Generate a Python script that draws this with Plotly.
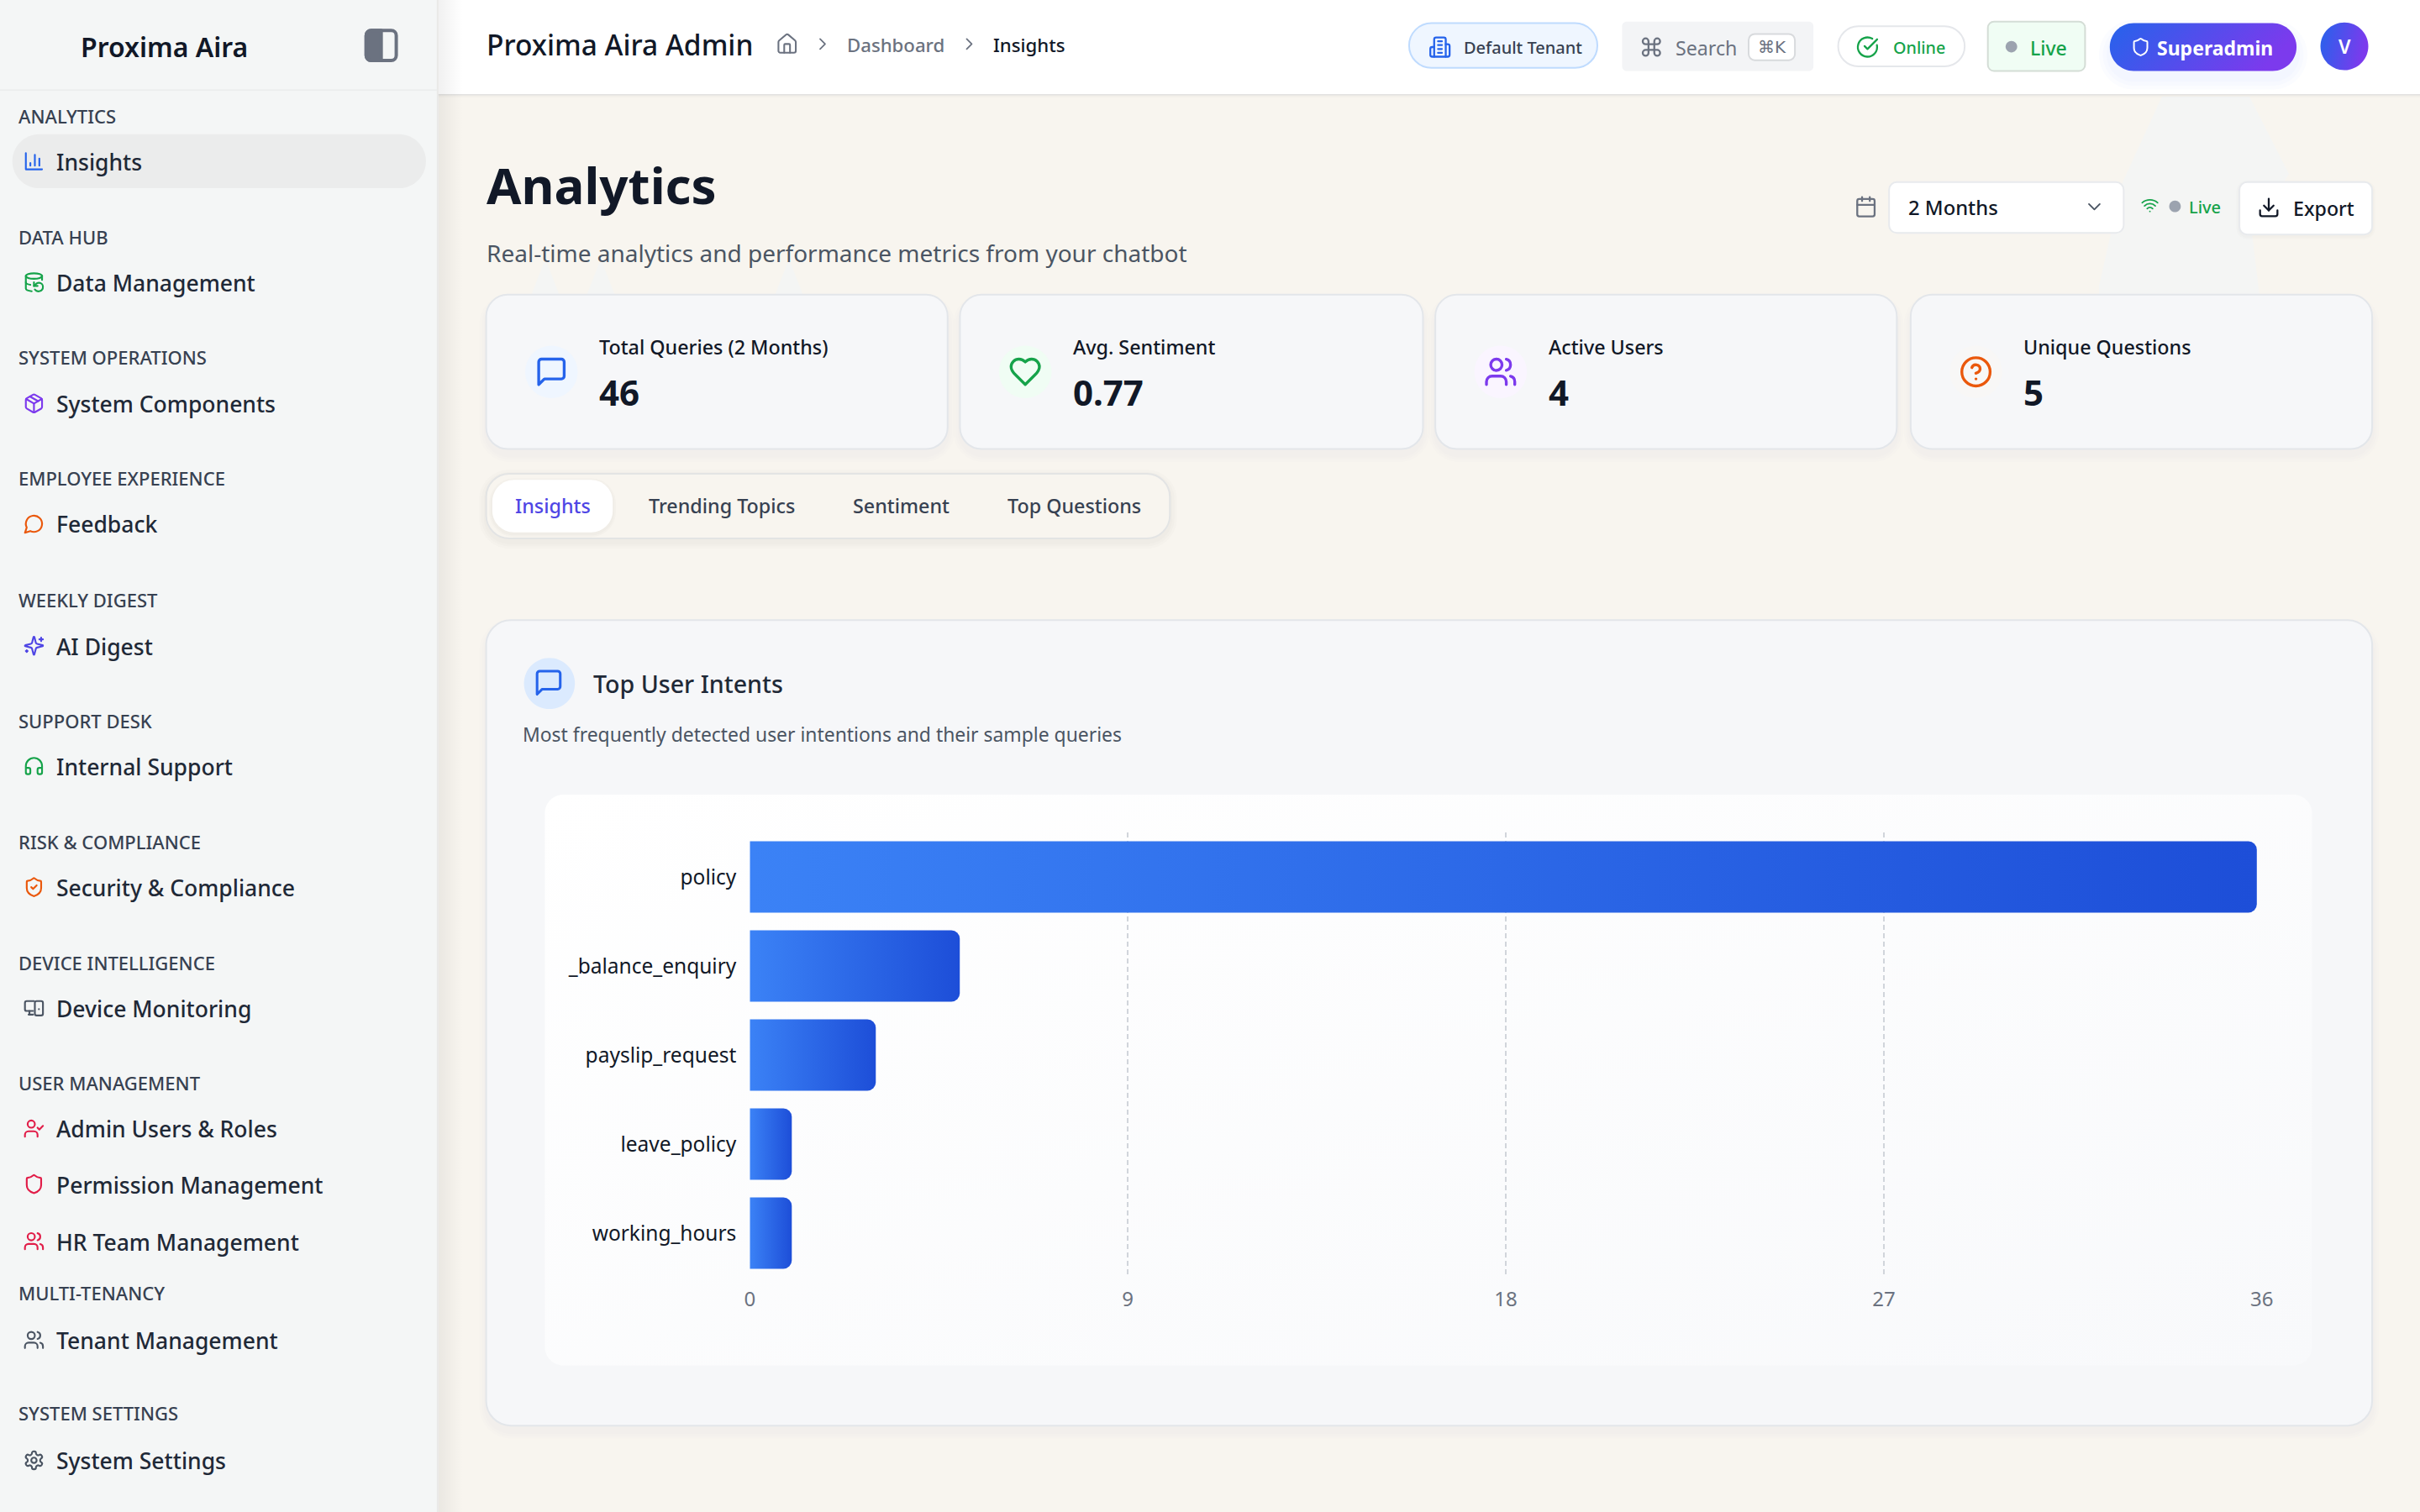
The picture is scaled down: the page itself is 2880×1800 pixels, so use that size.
"""Proxima Aira admin page, Top User Intents bar chart and the dashboard around it."""

from __future__ import annotations

import base64

import plotly.graph_objects as go

# chart data
intents = ["policy", "_balance_enquiry", "payslip_request", "leave_policy", "working_hours"]
intent_counts = [35.88, 5, 3, 1, 1]
count_ticks = [0, 9, 18, 27, 36]

# stat cards
stat_labels = ["Total Queries (2 Months)", "Avg. Sentiment", "Active Users", "Unique Questions"]
stat_values = ["46", "0.77", "4", "5"]

FONT = "Noto Sans"
INK = "#111827"
GREEN = "#16a34a"
BG = "#f8f5ef"
CARD = "#f6f7f9"
EDGE = "#e3e6ea"

# layout below is in units of the 1568x980 preview of the page
U = 2880 / 1568
K = 0.4477

shapes = []
annotations = []
images = []
gradient_shapes = {}


def px(x):
    return x / 1568


def py(y):
    return 1 - y / 980


def rrect_path(x0, y0, x1, y1, r):
    r = min(r, (x1 - x0) / 2, (y1 - y0) / 2)
    k = r * K
    pts = [
        f"M{px(x0 + r)},{py(y0)}", f"L{px(x1 - r)},{py(y0)}",
        f"C{px(x1 - k)},{py(y0)} {px(x1)},{py(y0 + k)} {px(x1)},{py(y0 + r)}",
        f"L{px(x1)},{py(y1 - r)}",
        f"C{px(x1)},{py(y1 - k)} {px(x1 - k)},{py(y1)} {px(x1 - r)},{py(y1)}",
        f"L{px(x0 + r)},{py(y1)}",
        f"C{px(x0 + k)},{py(y1)} {px(x0)},{py(y1 - k)} {px(x0)},{py(y1 - r)}",
        f"L{px(x0)},{py(y0 + r)}",
        f"C{px(x0)},{py(y0 + k)} {px(x0 + k)},{py(y0)} {px(x0 + r)},{py(y0)}",
        "Z",
    ]
    return " ".join(pts)


def box(x0, y0, x1, y1, r=0, fill="white", line=None, lw=2, grad=None):
    shapes.append(dict(
        type="path", xref="paper", yref="paper", layer="below",
        path=rrect_path(x0, y0, x1, y1, r), fillcolor=fill,
        line=dict(color=line, width=lw) if line else dict(width=0),
    ))
    if grad:
        gradient_shapes[len(shapes) - 1] = grad


def soft_shadow(x0, y0, x1, y1, r, dy=2, color="60,60,70", steps=(9, 6, 3), alpha=0.012):
    for s in steps:
        box(x0 - s / 2, y0 - s / 2 + dy, x1 + s / 2, y1 + s / 2 + dy, r + s / 2,
            fill=f"rgba({color},{alpha})")


def poly(points, fill):
    d = " ".join(("M" if i == 0 else "L") + f"{px(x / U)},{py(y / U)}" for i, (x, y) in enumerate(points))
    shapes.append(dict(type="path", xref="paper", yref="paper", layer="below",
                       path=d + " Z", fillcolor=fill, line=dict(width=0)))


def txt(x, y, text, size, color=INK, weight=400, anchor="left", family=FONT):
    annotations.append(dict(
        x=px(x), y=py(y), xref="paper", yref="paper", text=text, showarrow=False,
        xanchor=anchor, yanchor="middle", borderpad=0,
        font=dict(family=family, size=size, color=color, weight=weight),
    ))


ICONS = {
    "chart": '<path d="M3 3v18h18"/><path d="M18 17V9"/><path d="M13 17V5"/><path d="M8 17v-3"/>',
    "db": '<ellipse cx="12" cy="5" rx="9" ry="3"/><path d="M3 12a9 3 0 0 0 5 2.69"/><path d="M21 9.3V5"/><path d="M3 5v14a9 3 0 0 0 6.47 2.88"/><path d="M12 12v4h4"/><path d="M13 20a5 5 0 0 0 9-3 4.5 4.5 0 0 0-4.5-4.5c-1.33 0-2.54.54-3.41 1.41L12 16"/>',
    "box": '<path d="M21 8a2 2 0 0 0-1-1.73l-7-4a2 2 0 0 0-2 0l-7 4A2 2 0 0 0 3 8v8a2 2 0 0 0 1 1.73l7 4a2 2 0 0 0 2 0l7-4A2 2 0 0 0 21 16Z"/><path d="m3.3 7 8.7 5 8.7-5"/><path d="M12 22V12"/><path d="m7.5 4.27 9 5.15"/>',
    "bubble": '<path d="M7.9 20A9 9 0 1 0 4 16.1L2 22Z"/>',
    "sparkles": '<path d="M9.937 15.5A2 2 0 0 0 8.5 14.063l-6.135-1.582a.5.5 0 0 1 0-.962L8.5 9.936A2 2 0 0 0 9.937 8.5l1.582-6.135a.5.5 0 0 1 .963 0L14.063 8.5A2 2 0 0 0 15.5 9.937l6.135 1.581a.5.5 0 0 1 0 .964L15.5 14.063a2 2 0 0 0-1.437 1.437l-1.582 6.135a.5.5 0 0 1-.963 0z"/><path d="M20 3v4"/><path d="M22 5h-4"/><path d="M4 17v2"/><path d="M5 18H3"/>',
    "headset": '<path d="M3 14h3a2 2 0 0 1 2 2v3a2 2 0 0 1-2 2H5a2 2 0 0 1-2-2v-7a9 9 0 0 1 18 0v7a2 2 0 0 1-2 2h-1a2 2 0 0 1-2-2v-3a2 2 0 0 1 2-2h3"/>',
    "shield": '<path d="M20 13c0 5-3.5 7.5-7.66 8.95a1 1 0 0 1-.67-.01C7.5 20.5 4 18 4 13V6a1 1 0 0 1 1-1c2 0 4.5-1.2 6.24-2.72a1.17 1.17 0 0 1 1.52 0C14.51 3.81 17 5 19 5a1 1 0 0 1 1 1z"/>',
    "shieldcheck": '<path d="M20 13c0 5-3.5 7.5-7.66 8.95a1 1 0 0 1-.67-.01C7.5 20.5 4 18 4 13V6a1 1 0 0 1 1-1c2 0 4.5-1.2 6.24-2.72a1.17 1.17 0 0 1 1.52 0C14.51 3.81 17 5 19 5a1 1 0 0 1 1 1z"/><path d="m9 12 2 2 4-4"/>',
    "devices": '<path d="M12 4H4a2 2 0 0 0-2 2v7a2 2 0 0 0 2 2h7"/><path d="M6 19h5"/><path d="M7 15v4"/><rect x="13" y="4" width="9" height="16" rx="2"/><path d="M17.5 13h.01"/>',
    "usercheck": '<path d="M16 21v-2a4 4 0 0 0-4-4H6a4 4 0 0 0-4 4v2"/><circle cx="9" cy="7" r="4"/><path d="m16 11 2 2 4-4"/>',
    "users": '<path d="M16 21v-2a4 4 0 0 0-4-4H6a4 4 0 0 0-4 4v2"/><circle cx="9" cy="7" r="4"/><path d="M22 21v-2a4 4 0 0 0-3-3.87"/><path d="M16 3.13a4 4 0 0 1 0 7.75"/>',
    "cog": '<path d="M12.22 2h-.44a2 2 0 0 0-2 2v.18a2 2 0 0 1-1 1.73l-.43.25a2 2 0 0 1-2 0l-.15-.08a2 2 0 0 0-2.73.73l-.22.38a2 2 0 0 0 .73 2.73l.15.1a2 2 0 0 1 1 1.72v.51a2 2 0 0 1-1 1.74l-.15.09a2 2 0 0 0-.73 2.73l.22.38a2 2 0 0 0 2.73.73l.15-.08a2 2 0 0 1 2 0l.43.25a2 2 0 0 1 1 1.73V20a2 2 0 0 0 2 2h.44a2 2 0 0 0 2-2v-.18a2 2 0 0 1 1-1.73l.43-.25a2 2 0 0 1 2 0l.15.08a2 2 0 0 0 2.73-.73l.22-.39a2 2 0 0 0-.73-2.73l-.15-.08a2 2 0 0 1-1-1.74v-.5a2 2 0 0 1 1-1.74l.15-.09a2 2 0 0 0 .73-2.73l-.22-.38a2 2 0 0 0-2.73-.73l-.15.08a2 2 0 0 1-2 0l-.43-.25a2 2 0 0 1-1-1.73V4a2 2 0 0 0-2-2z"/><circle cx="12" cy="12" r="3"/>',
    "home": '<path d="M15 21v-8a1 1 0 0 0-1-1h-4a1 1 0 0 0-1 1v8"/><path d="M3 10a2 2 0 0 1 .709-1.528l7-5.999a2 2 0 0 1 2.582 0l7 5.999A2 2 0 0 1 21 10v9a2 2 0 0 1-2 2H5a2 2 0 0 1-2-2z"/>',
    "right": '<path d="m9 18 6-6-6-6"/>',
    "down": '<path d="m6 9 6 6 6-6"/>',
    "building": '<path d="M6 22V4a2 2 0 0 1 2-2h8a2 2 0 0 1 2 2v18Z"/><path d="M6 12H4a2 2 0 0 0-2 2v6a2 2 0 0 0 2 2h2"/><path d="M18 9h2a2 2 0 0 1 2 2v9a2 2 0 0 1-2 2h-2"/><path d="M10 6h4"/><path d="M10 10h4"/><path d="M10 14h4"/><path d="M10 18h4"/>',
    "command": '<path d="M15 6v12a3 3 0 1 0 3-3H6a3 3 0 1 0 3 3V6a3 3 0 1 0-3 3h12a3 3 0 1 0-3-3"/>',
    "check": '<path d="M21.801 10A10 10 0 1 1 17 3.335"/><path d="m9 11 3 3L22 4"/>',
    "calendar": '<path d="M8 2v4"/><path d="M16 2v4"/><rect x="3" y="4" width="18" height="18" rx="2"/><path d="M3 10h18"/>',
    "wifi": '<path d="M12 20h.01"/><path d="M2 8.82a15 15 0 0 1 20 0"/><path d="M5 12.859a10 10 0 0 1 14 0"/><path d="M8.5 16.429a5 5 0 0 1 7 0"/>',
    "download": '<path d="M21 15v4a2 2 0 0 1-2 2H5a2 2 0 0 1-2-2v-4"/><path d="m7 10 5 5 5-5"/><path d="M12 15V3"/>',
    "message": '<path d="M21 15a2 2 0 0 1-2 2H7l-4 4V5a2 2 0 0 1 2-2h14a2 2 0 0 1 2 2z"/>',
    "heart": '<path d="M19 14c1.49-1.46 3-3.21 3-5.5A5.5 5.5 0 0 0 16.5 3c-1.76 0-3 .5-4.5 2-1.5-1.5-2.74-2-4.5-2A5.5 5.5 0 0 0 2 8.5c0 2.3 1.5 4.05 3 5.5l7 7Z"/>',
    "help": '<circle cx="12" cy="12" r="10"/><path d="M9.09 9a3 3 0 0 1 5.83 1c0 2-3 3-3 3"/><path d="M12 17h.01"/>',
    "panel": '<rect x="3" y="3" width="18" height="18" rx="3"/><path d="M3 6a3 3 0 0 1 3-3h6v18H6a3 3 0 0 1-3-3z" fill="currentColor"/>',
}


def icon(name, cx, cy, size, color, sw=2):
    svg = (
        f'<svg xmlns="http://www.w3.org/2000/svg" width="96" height="96" viewBox="0 0 24 24" fill="none" '
        f'stroke="{color}" color="{color}" stroke-width="{sw}" stroke-linecap="round" stroke-linejoin="round">'
        f"{ICONS[name]}</svg>"
    )
    src = "data:image/svg+xml;base64," + base64.b64encode(svg.encode()).decode()
    images.append(dict(
        source=src, xref="paper", yref="paper", x=px(cx), y=py(cy),
        sizex=size / 1568, sizey=size / 980, xanchor="center", yanchor="middle",
        sizing="stretch", layer="above",
    ))


# page frame
box(284, 0, 1568, 980, 0, fill=BG)
# faint artefacts left behind the header and the controls
poly([(2573, 115), (2526, 217), (2498, 340), (2498, 352), (2689, 352), (2680, 277), (2724, 207), (2677, 115)], "#f4f5f4")
for apex in (649, 715, 939):
    poly([(apex - 17, 352), (apex, 308), (apex + 17, 352)], "#f4f5f4")

box(284, 0, 1568, 61, 0, fill="white")
box(284, 61, 1568, 61.8, 0, fill="#e2e2e0")
box(284, 61.8, 1568, 63, 0, fill="rgba(0,0,0,0.025)")
box(283, 0, 300, 980, 0, fill="#000000", grad="sideShade")
box(0, 0, 283.5, 980, 0, fill="#f4f6f6")
box(283, 0, 284, 980, 0, fill="#e9e9e7")
box(0, 58, 283.5, 58.7, 0, fill="#e8eaea")

# sidebar
txt(106.5, 30, "Proxima Aira", 32, INK, 600, "center")
icon("panel", 247, 29.5, 26, "#6b7280")
box(8, 87, 276, 122, 18, fill="#ebecec")

section_titles = [
    ("ANALYTICS", 75), ("DATA HUB", 153.5), ("SYSTEM OPERATIONS", 231.5), ("EMPLOYEE EXPERIENCE", 310),
    ("WEEKLY DIGEST", 388.5), ("SUPPORT DESK", 467), ("RISK & COMPLIANCE", 545.5), ("DEVICE INTELLIGENCE", 624),
    ("USER MANAGEMENT", 702), ("MULTI-TENANCY", 838), ("SYSTEM SETTINGS", 916),
]
for label, y in section_titles:
    txt(11.2, y, label.replace("&", "&amp;"), 22, "#374151", 500)

sidebar_items = [
    ("Insights", 105, "chart", "#2563eb"), ("Data Management", 183.5, "db", GREEN),
    ("System Components", 262, "box", "#7c3aed"), ("Feedback", 340, "bubble", "#ea580c"),
    ("AI Digest", 419, "sparkles", "#4f46e5"), ("Internal Support", 497, "headset", GREEN),
    ("Security & Compliance", 575.5, "shieldcheck", "#ea580c"), ("Device Monitoring", 654, "devices", "#4b5563"),
    ("Admin Users & Roles", 732, "usercheck", "#e11d48"), ("Permission Management", 768, "shield", "#e11d48"),
    ("HR Team Management", 805, "users", "#e11d48"), ("Tenant Management", 869, "users", "#4b5563"),
    ("System Settings", 947, "cog", "#4b5563"),
]
for label, y, ic, col in sidebar_items:
    txt(36, y, label.replace("&", "&amp;"), 26.5, "#1f2937", 500)
    icon(ic, 22, y - 0.5, 14, col)

# header
txt(314.5, 29, "Proxima Aira Admin", 33.5, INK, 500)
icon("home", 510, 28.5, 15, "#6b7280", 1.8)
icon("right", 533, 28.5, 13, "#6b7280", 1.8)
txt(548, 29, "Dashboard", 22.2, "#6b7280", 500)
icon("right", 628, 28.5, 13, "#6b7280", 1.8)
txt(643, 29, "Insights", 22.2, INK, 500)

box(913, 15, 1035, 44, 15, fill="#eff6ff", line="#bfdbfe")
icon("building", 933, 30.5, 15, "#2563eb")
txt(948, 30.5, "Default Tenant", 20, "#374151", 500)

box(1051, 14, 1175, 46, 3, fill="#f3f4f6")
icon("command", 1070, 30.5, 15, "#6b7280")
txt(1085, 31, "Search", 23.2, "#6b7280", 400)
box(1133, 22, 1163, 39, 4, fill="white", line="#d8dadd")
txt(1148, 30.5, "⌘K", 20, "#6b7280", 400, "center", "DejaVu Sans")

box(1191, 17, 1273, 43, 13, fill="white", line="#e5e7eb")
icon("check", 1210, 30.5, 15, GREEN)
txt(1226, 30.5, "Online", 19.8, GREEN, 500)

box(1288, 14, 1351, 46, 4, fill="#f0fdf4", line="#d4ddd6")
box(1299.5, 26.5, 1307, 34, 4, fill="#9ca3af")
txt(1315, 31, "Live", 23, GREEN, 500)

soft_shadow(1367, 15, 1488, 46, 16, dy=5, color="37,99,235", steps=(14, 9, 4), alpha=0.02)
box(1367, 15, 1488, 46, 15.5, fill="#2563eb", grad="brand")
icon("shield", 1387, 30.5, 13, "white")
txt(1397, 31, "Superadmin", 23, "white", 700)
box(1503.5, 14.5, 1534.5, 45.5, 15.5, fill="#2563eb", grad="brand")
txt(1519, 30, "V", 23, "white", 600, "center")

# page heading
txt(314.5, 120, "Analytics", 60, INK, 700)
txt(314.5, 164, "Real-time analytics and performance metrics from your chatbot", 28, "#4b5563", 400)

# period controls
icon("calendar", 1209, 134, 15, "#6b7280")
box(1224, 118, 1376, 151, 5, fill="white", line="#e8eaed")
txt(1236, 134.5, "2 Months", 23.8, INK, 500)
icon("down", 1357, 134, 14, "#4b5563", 1.8)
icon("wifi", 1393, 133, 12, GREEN)
box(1405.5, 130, 1413, 137.5, 4, fill="#9ca3af")
txt(1418, 134, "Live", 20, GREEN, 500)
soft_shadow(1451, 118, 1537, 152, 5, dy=1, steps=(4, 2), alpha=0.015)
box(1451, 118, 1537, 152, 5, fill="white", line="#e8eaed")
icon("download", 1470, 134.5, 15, INK)
txt(1485, 135, "Export", 23.2, INK, 500)

# stat cards
card_spans = [(315, 614), (622, 922), (930, 1229), (1238, 1537)]
stat_icons = [("message", "#2563eb", "#eff6ff"), ("heart", GREEN, "#f0fdf4"),
              ("users", "#7c3aed", "#faf5ff"), ("help", "#ea580c", "#f8f7f6")]
for (x0, x1), label, value, (ic, col, tint) in zip(card_spans, stat_labels, stat_values, stat_icons):
    soft_shadow(x0, 191, x1, 291, 15, dy=4, alpha=0.009)
    box(x0, 191, x1, 291, 14, fill=CARD, line=EDGE)
    cx = x0 + 42.3
    box(cx - 17, 224, cx + 17, 258, 17, fill=tint)
    icon(ic, cx, 241, 22, col)
    txt(x0 + 72.6, 225, label, 23.3, INK, 500)
    txt(x0 + 72.6, 254, value, 42, INK, 700)

# tabs
soft_shadow(315, 307, 758, 349, 15, dy=2, alpha=0.015)
box(315, 307, 758, 349, 15, fill=BG, line="#e3e4e4")
soft_shadow(319, 311, 397, 345, 14, dy=1, steps=(4, 2), alpha=0.02)
box(319, 311, 397, 345, 14, fill="white")
txt(358, 328, "Insights", 23.3, "#4f46e5", 500, "center")
txt(420, 328, "Trending Topics", 23.3, "#374151", 500)
txt(552, 328, "Sentiment", 23.3, "#374151", 500)
txt(652, 328, "Top Questions", 23.3, "#374151", 500)

# chart card
soft_shadow(315, 402, 1537, 924, 16, dy=4, alpha=0.009)
box(315, 402, 1537, 924, 16, fill=CARD, line=EDGE)
box(339.5, 426.5, 372.5, 459.5, 17, fill="#dbeafe")
icon("message", 355.5, 442.5, 20, "#2563eb")
txt(384, 443, "Top User Intents", 28.6, "#1f2937", 500)
txt(338, 476, "Most frequently detected user intentions and their sample queries", 22.9, "#4b5563", 400)
box(353, 515, 1498, 885, 12, fill="white", grad="panel")

# x domain and y domain of the plot, in page pixels
plot_x = (892.3, 2691.8)
plot_y = (991, 1521)

fig = go.Figure(
    go.Bar(
        x=intent_counts,
        y=intents,
        orientation="h",
        marker=dict(color="#2563eb", line=dict(width=0)),
        hoverinfo="skip",
    )
)
fig.update_layout(
    template="none",
    width=2880,
    height=1800,
    margin=dict(l=0, r=0, t=0, b=0, pad=0),
    paper_bgcolor="white",
    plot_bgcolor="rgba(0,0,0,0)",
    showlegend=False,
    bargap=0.2,
    barcornerradius=10,
    font=dict(family=FONT),
    shapes=shapes,
    annotations=annotations,
    images=images,
)
fig.update_xaxes(
    automargin=False,
    domain=[plot_x[0] / 2880, plot_x[1] / 2880],
    range=[0, 36],
    tickmode="array",
    tickvals=count_ticks,
    ticktext=[str(t) for t in count_ticks],
    showgrid=True,
    gridcolor="#d1d5db",
    gridwidth=2,
    griddash="6px,4px",
    zeroline=False,
    showline=False,
    ticks="",
    ticklabelstandoff=9,
    tickfont=dict(family=FONT, size=24, color="#6b7280"),
)
fig.update_yaxes(
    automargin=False,
    domain=[1 - plot_y[1] / 1800, 1 - plot_y[0] / 1800],
    autorange="reversed",
    showgrid=False,
    zeroline=False,
    showline=False,
    ticks="",
    ticklabelstandoff=15,
    tickfont=dict(family=FONT, size=24.5, color=INK),
)

# Bars and a few chips carry a gradient, which Plotly has no option for
fill_map = ",".join(f'[{i},"{name}"]' for i, name in gradient_shapes.items())
post_script = """
document.body.style.margin = '0';
document.body.style.overflow = 'hidden';
var gd = document.getElementById('{plot_id}');
var svg = gd.querySelector('svg.main-svg');
var NS = 'http://www.w3.org/2000/svg';
function addGrad(id, x1, y1, x2, y2, stops) {
  var g = document.createElementNS(NS, 'linearGradient');
  g.setAttribute('id', id);
  g.setAttribute('x1', x1); g.setAttribute('y1', y1);
  g.setAttribute('x2', x2); g.setAttribute('y2', y2);
  stops.forEach(function (s) {
    var st = document.createElementNS(NS, 'stop');
    st.setAttribute('offset', s[0]);
    st.setAttribute('stop-color', s[1]);
    st.setAttribute('stop-opacity', s[2] === undefined ? 1 : s[2]);
    g.appendChild(st);
  });
  var defs = document.createElementNS(NS, 'defs');
  defs.appendChild(g);
  svg.insertBefore(defs, svg.firstChild);
}
addGrad('barFill', 0, 0, 1, 0, [[0, '#3b82f6'], [1, '#1d4ed8']]);
addGrad('brand', 0, 0, 1, 0.25, [[0, '#2563eb'], [1, '#7c3aed']]);
addGrad('panel', 0, 0, 1, 1, [[0, '#ffffff'], [1, '#f8f9fb']]);
addGrad('sideShade', 0, 0, 1, 0, [[0, '#000000', 0.06], [1, '#000000', 0]]);
gd.querySelectorAll('.barlayer .point path').forEach(function (p) { p.style.fill = 'url(#barFill)'; });
[FILL_MAP].forEach(function (m) {
  var el = gd.querySelector('.layer-below .shapelayer path[data-index="' + m[0] + '"]');
  if (el) { el.style.fill = 'url(#' + m[1] + ')'; el.style.fillOpacity = 1; }
});
""".replace("FILL_MAP", fill_map)

fig.write_html("out.html", config={"displayModeBar": False}, post_script=post_script)
